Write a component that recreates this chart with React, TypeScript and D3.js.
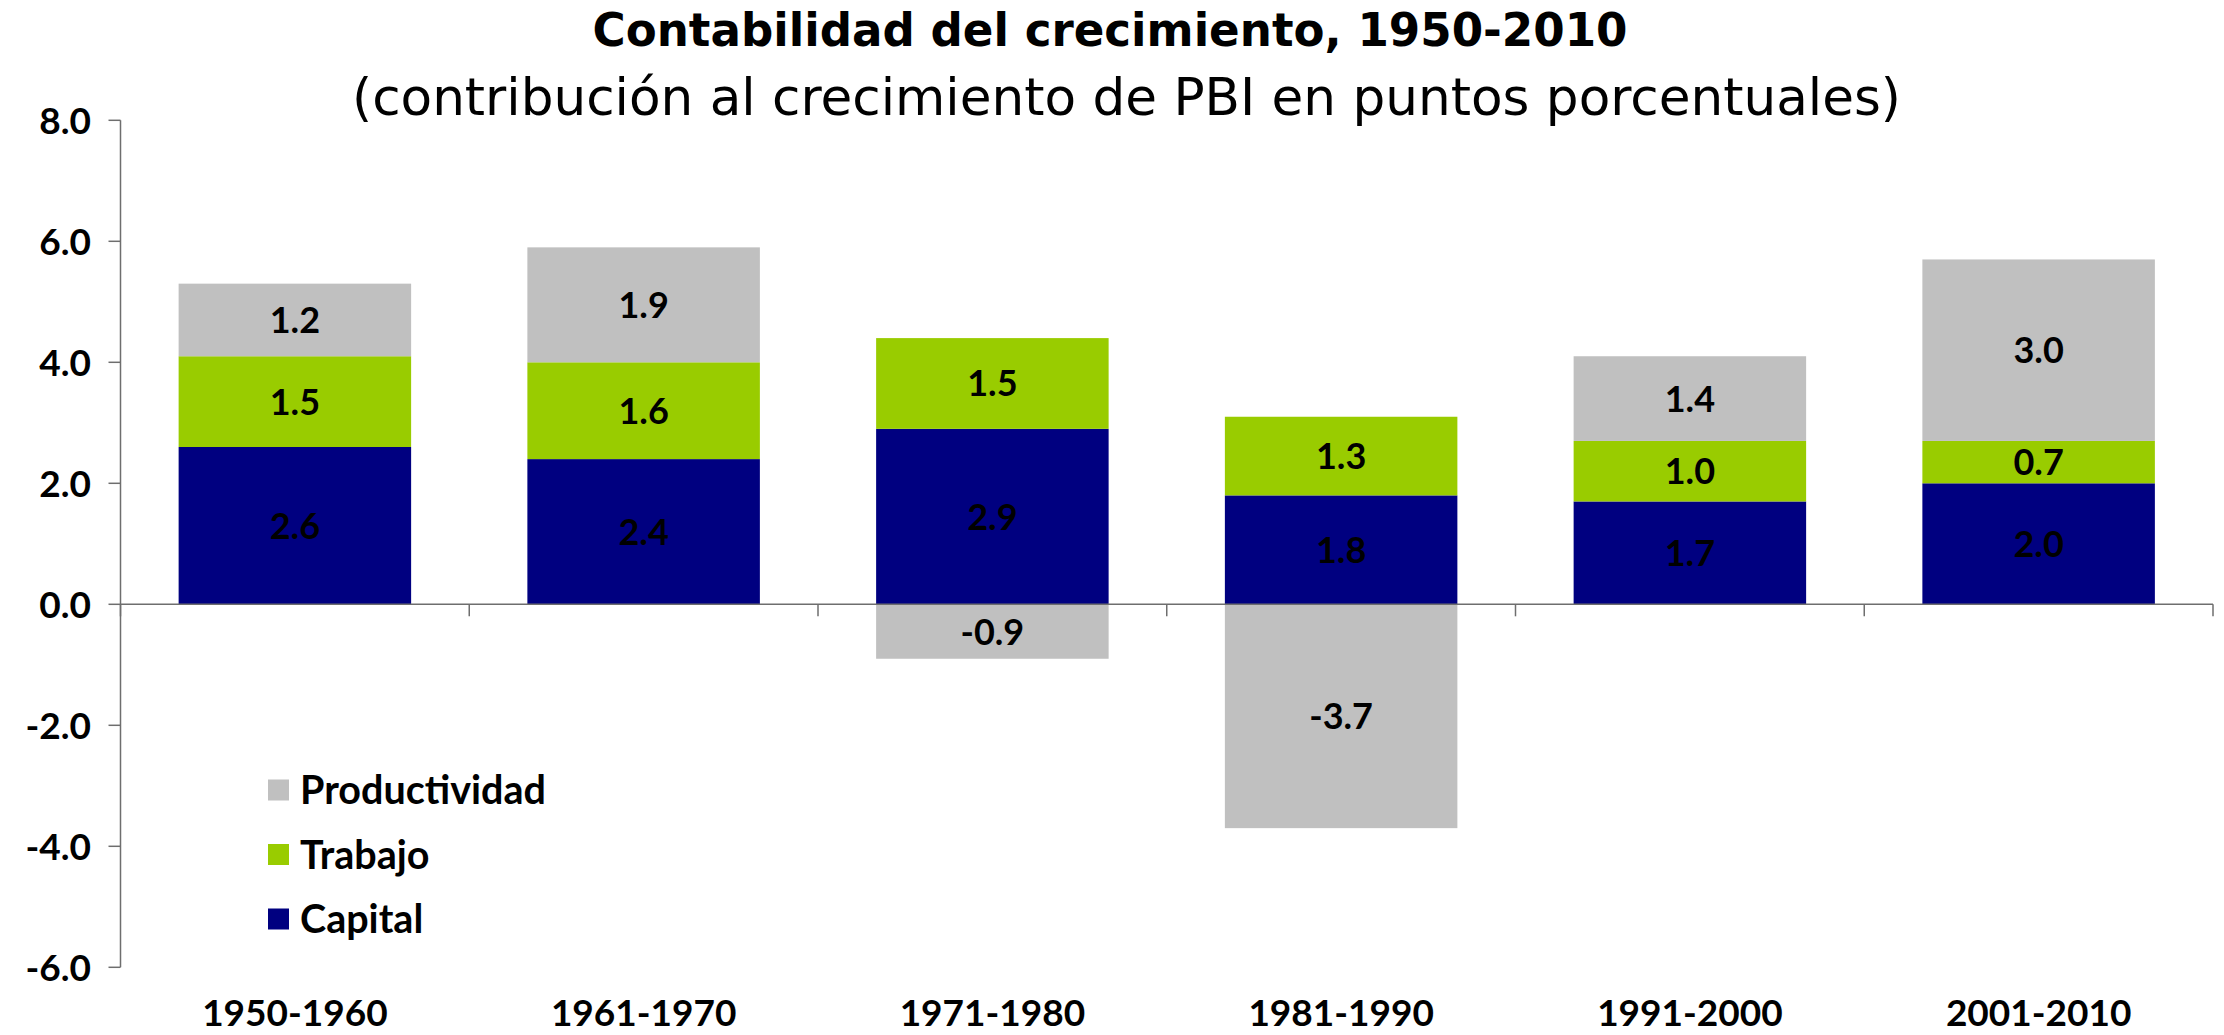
import React from "react";
import * as d3 from "d3";

const categories = ["1950-1960", "1961-1970", "1971-1980", "1981-1990", "1991-2000", "2001-2010"];
const capital = [2.6, 2.4, 2.9, 1.8, 1.7, 2.0];
const trabajo = [1.5, 1.6, 1.5, 1.3, 1.0, 0.7];
const productividad = [1.2, 1.9, -0.9, -3.7, 1.4, 3.0];
const yTicks = [-6, -4, -2, 0, 2, 4, 6, 8];
const seriesKeys = ["Capital", "Trabajo", "Productividad"];
const seriesColors: Record<string, string> = {
  Capital: "#000080",
  Trabajo: "#99CC00",
  Productividad: "#C0C0C0",
};
const legendOrder = ["Productividad", "Trabajo", "Capital"];
const title = "Contabilidad del crecimiento, 1950-2010";
const subtitle = "(contribución al crecimiento de PBI en puntos porcentuales)";

const W = 2224;
const H = 1035;

const locale = d3.formatLocale({
  decimal: ".",
  thousands: ",",
  grouping: [3],
  currency: ["", ""],
  minus: "-",
});
const fmt = locale.format(".1f");

export default function App() {
  const rows = categories.map((c, i) => ({
    cat: c,
    Capital: capital[i],
    Trabajo: trabajo[i],
    Productividad: productividad[i],
  }));
  const stacked = d3
    .stack<any>()
    .keys(seriesKeys)
    .offset(d3.stackOffsetDiverging)(rows);

  const x = d3
    .scaleBand<string>()
    .domain(categories)
    .range([120.5, 2213])
    .paddingInner(1 / 3)
    .paddingOuter(1 / 6);
  const y = d3.scaleLinear().domain([-6, 8]).range([967.3, 120.3]);
  const step = x.step();
  const x0 = x.range()[0];
  const x1 = x.range()[1];
  const axisColor = "#6e6e6e";
  const labelFont = "Lato, 'Noto Sans', sans-serif";

  return (
    <svg
      width={W}
      height={H}
      style={{ position: "absolute", left: 0, top: 0, display: "block", background: "#fff" }}
    >
      <rect x={0} y={0} width={W} height={H} fill="#fff" />
      {/* title */}
      <text
        x={1110}
        y={46}
        textAnchor="middle"
        fontFamily="'DejaVu Sans', sans-serif"
        fontWeight="bold"
        fontSize={46}
        textLength={1035}
        lengthAdjust="spacingAndGlyphs"
        fill="#000"
      >
        {title}
      </text>
      <text
        x={1126.5}
        y={115}
        textAnchor="middle"
        fontFamily="'DejaVu Sans', sans-serif"
        fontSize={51}
        textLength={1549}
        lengthAdjust="spacingAndGlyphs"
        fill="#000"
      >
        {subtitle}
      </text>

      {/* bars */}
      {stacked.map((s) => (
        <g key={s.key}>
          {s.map((d, i) => {
            const top = y(Math.max(d[0], d[1]));
            const bot = y(Math.min(d[0], d[1]));
            return (
              <rect
                key={i}
                x={x(categories[i])}
                y={top}
                width={x.bandwidth()}
                height={bot - top}
                fill={seriesColors[s.key]}
              />
            );
          })}
        </g>
      ))}

      {/* data labels */}
      {stacked.map((s) => (
        <g key={"l" + s.key}>
          {s.map((d, i) => {
            const v = (rows[i] as any)[s.key] as number;
            const cy = y((d[0] + d[1]) / 2);
            return (
              <text
                key={i}
                x={(x(categories[i]) as number) + x.bandwidth() / 2}
                y={cy + 13}
                textAnchor="middle"
                fontFamily={labelFont}
                fontWeight="bold"
                fontSize={36}
                fill="#000"
              >
                {fmt(v)}
              </text>
            );
          })}
        </g>
      ))}

      {/* y axis */}
      <line x1={x0} x2={x0} y1={y(8)} y2={y(-6)} stroke={axisColor} strokeWidth={1.5} />
      {yTicks.map((t) => (
        <g key={t}>
          <line x1={x0 - 12} x2={x0} y1={y(t)} y2={y(t)} stroke={axisColor} strokeWidth={1.5} />
          <text
            x={91}
            y={y(t) + 13.5}
            textAnchor="end"
            fontFamily={labelFont}
            fontWeight="bold"
            fontSize={37}
            fill="#000"
          >
            {fmt(t)}
          </text>
        </g>
      ))}

      {/* x axis */}
      <line x1={x0} x2={x1} y1={y(0)} y2={y(0)} stroke={axisColor} strokeWidth={1.5} />
      {d3.range(categories.length + 1).map((i) => (
        <line
          key={i}
          x1={x0 + i * step}
          x2={x0 + i * step}
          y1={y(0)}
          y2={y(0) + 12}
          stroke={axisColor}
          strokeWidth={1.5}
        />
      ))}
      {categories.map((c) => (
        <text
          key={c}
          x={(x(c) as number) + x.bandwidth() / 2}
          y={1026}
          textAnchor="middle"
          fontFamily={labelFont}
          fontWeight="bold"
          fontSize={37}
          fill="#000"
        >
          {c}
        </text>
      ))}

      {/* legend */}
      {legendOrder.map((k, i) => {
        const cy = 790 + i * 64.5;
        return (
          <g key={k}>
            <rect x={268} y={cy - 10.5} width={21} height={21} fill={seriesColors[k]} />
            <text
              x={300}
              y={cy + 14}
              fontFamily={labelFont}
              fontWeight="bold"
              fontSize={39.5}
              fill="#000"
            >
              {k}
            </text>
          </g>
        );
      })}
    </svg>
  );
}
